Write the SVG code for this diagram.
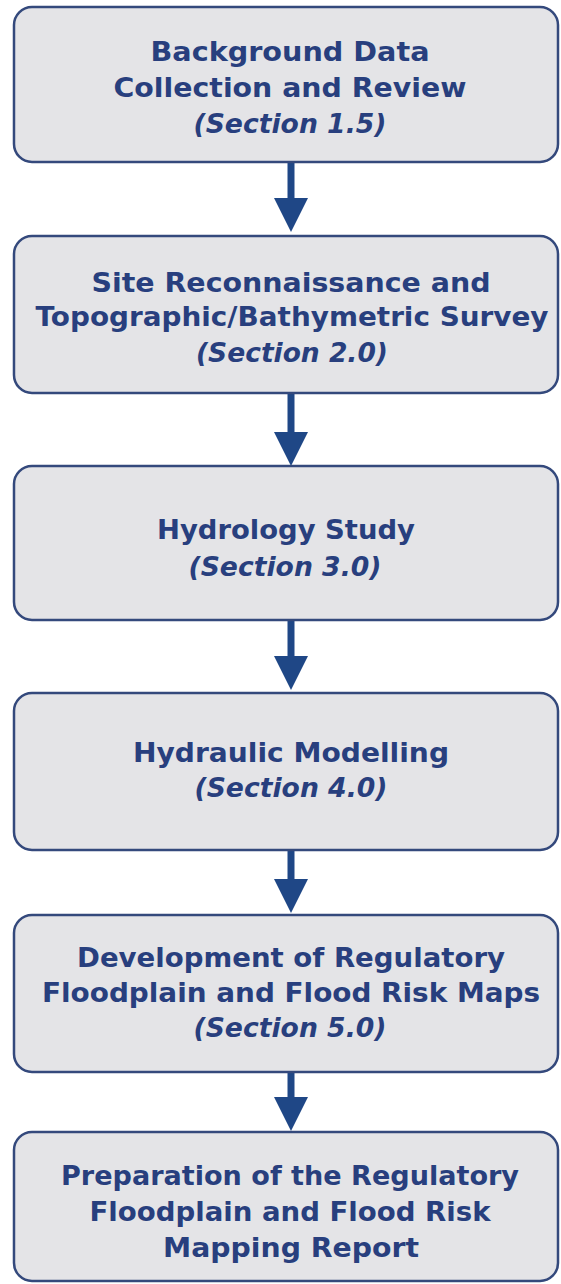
<svg xmlns="http://www.w3.org/2000/svg" width="561" height="1284" viewBox="0 0 561 1284">
<style>
.box{fill:#e4e4e7;stroke:#34497c;stroke-width:2.5}
.t{font-family:"DejaVu Sans","Liberation Sans",sans-serif;font-weight:bold;font-size:26px;fill:#283f7e;text-anchor:middle}
.i{font-style:italic}
.c{stroke:#1f4786;stroke-width:7;fill:none}
</style>
<defs>
<marker id="ah" viewBox="0 0 34 34" markerWidth="34" markerHeight="34" markerUnits="userSpaceOnUse" refX="0" refY="17" orient="auto">
<path d="M0,0 L34,17 L0,34 Z" fill="#1f4786"/>
</marker>
</defs>
<rect width="561" height="1284" fill="#ffffff"/>
<g id="connectors">
<line class="c" x1="291" y1="162" x2="291" y2="198" marker-end="url(#ah)"/>
<line class="c" x1="291" y1="393" x2="291" y2="432" marker-end="url(#ah)"/>
<line class="c" x1="291" y1="620" x2="291" y2="656" marker-end="url(#ah)"/>
<line class="c" x1="291" y1="850" x2="291" y2="879" marker-end="url(#ah)"/>
<line class="c" x1="291" y1="1072" x2="291" y2="1097" marker-end="url(#ah)"/>
</g>
<g id="node1">
<rect class="box" x="14" y="7" width="544" height="155" rx="18"/>
<text class="t" x="290" y="61" textLength="279" lengthAdjust="spacingAndGlyphs">Background Data</text>
<text class="t" x="290" y="97" textLength="353" lengthAdjust="spacingAndGlyphs">Collection and Review</text>
<text class="t i" x="290" y="133" textLength="193" lengthAdjust="spacingAndGlyphs">(Section 1.5)</text>
</g>
<g id="node2">
<rect class="box" x="14" y="236" width="544" height="157" rx="18"/>
<text class="t" x="291" y="292" textLength="399" lengthAdjust="spacingAndGlyphs">Site Reconnaissance and</text>
<text class="t" x="292" y="326" textLength="513" lengthAdjust="spacingAndGlyphs">Topographic/Bathymetric Survey</text>
<text class="t i" x="292" y="362" textLength="192" lengthAdjust="spacingAndGlyphs">(Section 2.0)</text>
</g>
<g id="node3">
<rect class="box" x="14" y="466" width="544" height="154" rx="18"/>
<text class="t" x="286" y="539" textLength="258" lengthAdjust="spacingAndGlyphs">Hydrology Study</text>
<text class="t i" x="285" y="576" textLength="193" lengthAdjust="spacingAndGlyphs">(Section 3.0)</text>
</g>
<g id="node4">
<rect class="box" x="14" y="693" width="544" height="157" rx="18"/>
<text class="t" x="291" y="762" textLength="316" lengthAdjust="spacingAndGlyphs">Hydraulic Modelling</text>
<text class="t i" x="291" y="797" textLength="193" lengthAdjust="spacingAndGlyphs">(Section 4.0)</text>
</g>
<g id="node5">
<rect class="box" x="14" y="915" width="544" height="157" rx="18"/>
<text class="t" x="291" y="967" textLength="428" lengthAdjust="spacingAndGlyphs">Development of Regulatory</text>
<text class="t" x="291" y="1002" textLength="498" lengthAdjust="spacingAndGlyphs">Floodplain and Flood Risk Maps</text>
<text class="t i" x="290" y="1037" textLength="193" lengthAdjust="spacingAndGlyphs">(Section 5.0)</text>
</g>
<g id="node6">
<rect class="box" x="14" y="1132" width="544" height="149" rx="18"/>
<text class="t" x="290" y="1185" textLength="458" lengthAdjust="spacingAndGlyphs">Preparation of the Regulatory</text>
<text class="t" x="290" y="1221" textLength="401" lengthAdjust="spacingAndGlyphs">Floodplain and Flood Risk</text>
<text class="t" x="291" y="1257" textLength="256" lengthAdjust="spacingAndGlyphs">Mapping Report</text>
</g>
</svg>
